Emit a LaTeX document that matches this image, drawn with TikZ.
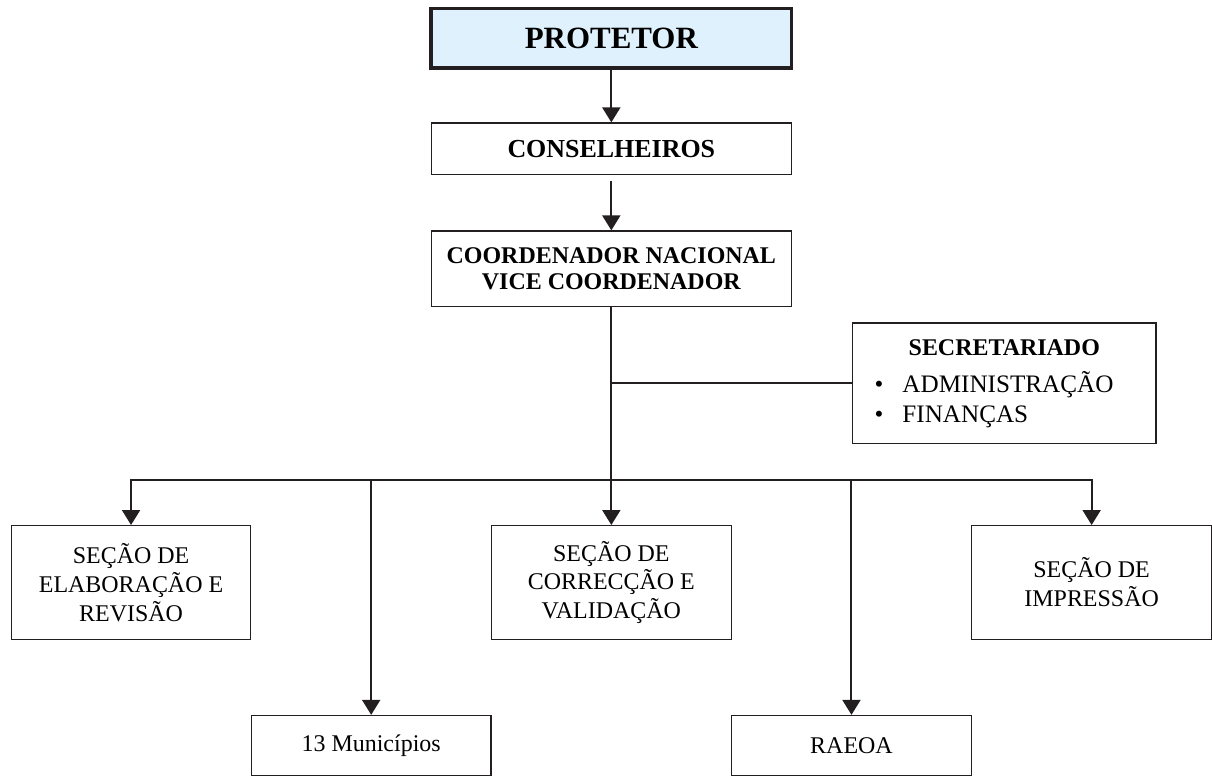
\documentclass[tikz,border=0pt]{standalone}
\usepackage{fontspec}
\setmainfont{Liberation Serif}
\usepackage{tikz}
\usetikzlibrary{positioning, arrows.meta, calc}
\definecolor{protblue}{RGB}{222,241,252}
\definecolor{inkline}{RGB}{35,31,32}

\begin{document}
\begin{tikzpicture}[
    node distance=26pt and 30pt,
    topbox/.style={rectangle, draw=inkline, line width=0.6pt, inner sep=0pt,
                   minimum width=180.5pt, minimum height=26pt, align=center,
                   font=\fontsize{13}{13}\selectfont\bfseries},
    headbox/.style={topbox, line width=1.8pt, fill=protblue, minimum height=29.8pt,
                    font=\fontsize{15.5}{15.5}\selectfont\bfseries},
    secbox/.style={rectangle, draw=inkline, line width=0.6pt, inner sep=0pt,
                   minimum width=152pt, minimum height=60.5pt, text width=152pt,
                   align=left, font=\fontsize{12.6}{15}\selectfont},
    unitbox/.style={rectangle, draw=inkline, line width=0.6pt, inner sep=0pt,
                    minimum width=120pt, minimum height=57pt, align=center,
                    font=\fontsize{12}{14.5}\selectfont},
    leafbox/.style={unitbox, minimum height=30pt},
    arr/.style={-{Triangle[width=9pt, length=7.5pt]}, line width=1pt, draw=inkline},
    link/.style={line width=1pt, draw=inkline},
]

% Top chain
\node[headbox] (prot) {PROTETOR};
\node[topbox, below=26.25pt of prot] (cons) {CONSELHEIROS};
\node[topbox, below=27.5pt of cons, minimum height=38pt,
      font=\fontsize{12}{12.8}\selectfont\bfseries] (coord) {COORDENADOR NACIONAL\\VICE COORDENADOR};

% Secretariado
\node[secbox, below right=7.5pt and 30pt of coord] (secr)
    {\makebox[152pt]{\fontsize{12}{12}\selectfont\bfseries SECRETARIADO}\\[3.5pt]
     \hspace*{11pt}\makebox[14pt][l]{•}ADMINISTRAÇÃO\\
     \hspace*{11pt}\makebox[14pt][l]{•}FINANÇAS};

% Sections
\node[unitbox, below=109pt of coord] (corr) {SEÇÃO DE\\CORRECÇÃO E\\VALIDAÇÃO};
\node[unitbox, left=120pt of corr] (elab) {SEÇÃO DE\\ELABORAÇÃO E\\REVISÃO};
\node[unitbox, right=120pt of corr] (impr) {SEÇÃO DE\\IMPRESSÃO};

% Lower row
\node[leafbox, below=37.5pt of $(elab.south east)!0.5!(corr.south west)$] (mun) {13 Municípios};
\node[leafbox, below=37.5pt of $(corr.south east)!0.5!(impr.south west)$] (raeoa) {RAEOA};

\coordinate (bus) at ($(corr.north)+(0,22.5pt)$);

% Arrows
\draw[arr] (prot) -- (cons);
\draw[arr, shorten <=3pt] (cons) -- (coord);
\draw[link] (coord.south |- secr.west) -- (secr.west);
\draw[arr] (coord.south) -- (bus) -| (elab.north);
\draw[arr] (coord.south) -- (bus) -| (mun.north);
\draw[arr] (coord.south) -- (corr.north);
\draw[arr] (coord.south) -- (bus) -| (raeoa.north);
\draw[arr] (coord.south) -- (bus) -| (impr.north);

\useasboundingbox ($(prot.center)+(-306.25pt,19.25pt)$) rectangle ++(606pt,-388pt);
\end{tikzpicture}
\end{document}
